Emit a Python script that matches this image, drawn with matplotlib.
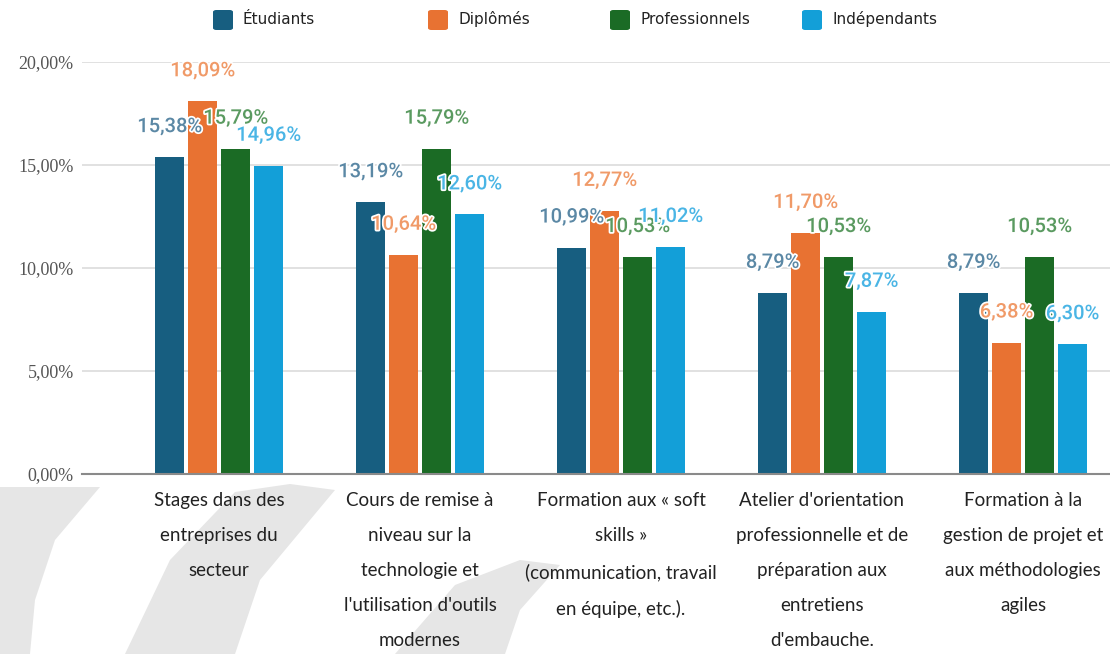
import numpy as np
import matplotlib.pyplot as plt
import matplotlib.patheffects as pe
from matplotlib.patches import Polygon, FancyBboxPatch

# data
categories = [
    "Stages dans des\nentreprises du\nsecteur",
    "Cours de remise à\nniveau sur la\ntechnologie et\nl'utilisation d'outils\nmodernes",
    "Formation aux « soft\nskills »\n(communication, travail\nen équipe, etc.).",
    "Atelier d'orientation\nprofessionnelle et de\npréparation aux\nentretiens\nd'embauche.",
    "Formation à la\ngestion de projet et\naux méthodologies\nagiles",
]
series = ["Étudiants", "Diplômés", "Professionnels", "Indépendants"]
etudiants = [15.38, 13.19, 10.99, 8.79, 8.79]
diplomes = [18.09, 10.64, 12.77, 11.70, 6.38]
professionnels = [15.79, 15.79, 10.53, 10.53, 10.53]
independants = [14.96, 12.60, 11.02, 7.87, 6.30]
yticks = [0, 5, 10, 15, 20]

values = [etudiants, diplomes, professionnels, independants]
bar_colors = ["#175e80", "#e87232", "#1b6b25", "#139fd8"]
label_colors = ["#5b88a5", "#f09a68", "#5a9a60", "#4ab5e5"]

W, H = 1110, 654
fig = plt.figure(figsize=(W / 100, H / 100), dpi=100)

# light grey watermark shapes behind the category labels
def px(pts):
    return [(x / W, 1 - y / H) for x, y in pts]

wm = "#e6e6e6"
for pts in [
    [(0, 487), (100, 487), (55, 540), (35, 600), (30, 654), (0, 654)],
    [(235, 492), (290, 484), (335, 490), (260, 580), (235, 654), (125, 654), (170, 560)],
    [(455, 585), (520, 560), (560, 565), (520, 610), (505, 654), (395, 654)],
]:
    fig.patches.append(Polygon(px(pts), closed=True, transform=fig.transFigure,
                               facecolor=wm, edgecolor="none", zorder=0))

ax = fig.add_axes([82 / W, 1 - 474 / H, 1 - 82 / W, (474 - 62) / H])
ax.set_zorder(2)
ax.patch.set_alpha(0)

x = np.arange(len(categories))
step = 33 / 201
width = 29 / 201
for i, (vals, c, lc) in enumerate(zip(values, bar_colors, label_colors)):
    pos = x + (i - 1.5) * step
    ax.bar(pos, vals, width=width, color=c, zorder=3)
    for xp, v in zip(pos, vals):
        ax.annotate(f"{v:.2f}%".replace(".", ","), (xp, v), xytext=(0, 22),
                    textcoords="offset points", ha="center", va="center",
                    fontsize=14.5, family="Roboto", weight="medium", color=lc, zorder=5,
                    path_effects=[pe.withStroke(linewidth=2.5, foreground="white")])

ax.set_xlim(-0.682, 4.433)
ax.set_ylim(0, 20)
ax.set_yticks(yticks)
ax.set_yticklabels([f"{t:.2f}%".replace(".", ",") for t in yticks],
                   family="Liberation Serif", fontsize=13, color="#555555")
ax.set_xticks(x)
ax.set_xticklabels(categories, family="Lato", fontsize=13.5, color="#222222",
                   linespacing=2.28, va="top")
ax.tick_params(axis="x", length=0, pad=13)
ax.tick_params(axis="y", length=0, pad=6)
ax.grid(axis="y", color="#dcdcdc", linewidth=1.2, zorder=0)
for s in ["top", "right", "left"]:
    ax.spines[s].set_visible(False)
ax.spines["bottom"].set_color("#8a8a8a")
ax.spines["bottom"].set_linewidth(1.5)
ax.spines["bottom"].set_zorder(4)

# legend along the top
legend_x = [213, 428, 610, 802]
for lx, name, c in zip(legend_x, series, bar_colors):
    fig.patches.append(FancyBboxPatch((lx / W, 1 - 30 / H), 20 / W, 20 / H,
                                      boxstyle="round,pad=0,rounding_size=0.003",
                                      transform=fig.transFigure, facecolor=c,
                                      edgecolor="none"))
    fig.text((lx + 30) / W, 1 - 19 / H, name, fontsize=11, family="DejaVu Sans",
             color="#222222", ha="left", va="center")

fig.savefig("out.png", dpi=100)
